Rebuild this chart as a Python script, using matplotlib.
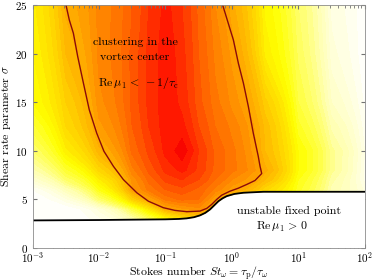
import numpy as np
import matplotlib
matplotlib.use("Agg")
import matplotlib.pyplot as plt
from matplotlib.colors import LinearSegmentedColormap

plt.rcParams['font.family'] = 'serif'
plt.rcParams['font.serif'] = ['cmr10', 'DejaVu Serif']
plt.rcParams['mathtext.fontset'] = 'cm'
plt.rcParams['axes.formatter.use_mathtext'] = True

# grid of the coloured field (0 = white .. 1 = red)
log_st = np.array([-3, -2.5, -2, -1.5, -1.25, -1, -0.75, -0.5, -0.25, 0, 0.5, 1, 1.5, 2])
sigma_rows = np.array([3, 4, 5, 6, 7, 8, 10, 12.5, 15, 20, 25])
field = np.array([
    [0.00, 0.00, 0.05, 0.20, 0.32, 0.45, 0.55, 0.60, 0.55, 0.50, 0.45, 0.30, 0.10, 0.00],  # 3
    [0.00, 0.00, 0.10, 0.35, 0.52, 0.70, 0.74, 0.77, 0.66, 0.55, 0.50, 0.32, 0.12, 0.00],  # 4
    [0.00, 0.08, 0.30, 0.60, 0.72, 0.82, 0.85, 0.84, 0.72, 0.60, 0.52, 0.35, 0.15, 0.02],  # 5
    [0.03, 0.18, 0.42, 0.74, 0.82, 0.87, 0.89, 0.86, 0.80, 0.73, 0.58, 0.40, 0.20, 0.08],  # 6
    [0.12, 0.30, 0.50, 0.76, 0.85, 0.91, 0.93, 0.90, 0.84, 0.78, 0.66, 0.42, 0.22, 0.05],  # 7
    [0.20, 0.38, 0.58, 0.80, 0.88, 0.94, 0.97, 0.92, 0.86, 0.82, 0.70, 0.45, 0.25, 0.05],  # 8
    [0.30, 0.50, 0.68, 0.85, 0.91, 0.97, 1.01, 0.93, 0.86, 0.82, 0.66, 0.45, 0.25, 0.06],  # 10
    [0.38, 0.57, 0.74, 0.87, 0.93, 0.98, 0.97, 0.90, 0.84, 0.80, 0.65, 0.40, 0.20, 0.04],  # 12.5
    [0.45, 0.60, 0.77, 0.88, 0.94, 0.98, 0.95, 0.88, 0.82, 0.77, 0.61, 0.36, 0.15, 0.02],  # 15
    [0.48, 0.66, 0.79, 0.88, 0.94, 0.98, 0.94, 0.87, 0.80, 0.74, 0.50, 0.32, 0.10, 0.00],  # 20
    [0.50, 0.70, 0.79, 0.87, 0.93, 0.97, 0.93, 0.86, 0.78, 0.70, 0.47, 0.30, 0.08, 0.00],  # 25
])

# stability boundary (black)
st_bound = [1e-3, 0.01, 0.1, 0.16, 0.209, 0.27, 0.333, 0.40, 0.471, 0.55, 0.631, 0.73,
            0.841, 1.1, 1.5, 3.0, 10, 100]
sigma_bound = [2.82, 2.86, 2.93, 2.97, 3.03, 3.15, 3.34, 3.6, 3.95, 4.4, 4.8, 5.1,
               5.32, 5.55, 5.67, 5.77, 5.77, 5.77]

# clustering region Re mu1 = -1/tau_c (dark red)
st_clust = [0.00319, 0.00358, 0.00412, 0.00479, 0.00582, 0.00716, 0.00927, 0.0119,
            0.0165, 0.0233, 0.0372, 0.0555, 0.0933, 0.14, 0.21,
            0.333, 0.421, 0.50, 0.594, 0.706, 0.942, 1.26, 1.68, 2.24, 2.83,
            2.67, 2.51, 2.11, 1.78, 1.50, 1.26, 1.06, 0.889, 0.731]
sigma_clust = [25, 23.46, 22.1, 19.7, 17.0, 14.2, 11.8, 9.94,
               8.4, 7.03, 5.67, 4.8, 4.13, 3.85, 3.72,
               3.78, 4.06, 4.47, 4.98, 5.42, 5.83, 6.14, 6.52, 6.93, 7.65,
               8.4, 9.43, 11.83, 14.56, 16.96, 19.0, 21.4, 23.1, 25]

cmap = LinearSegmentedColormap.from_list('wyr', [
    (0.0, (1, 1, 1)),
    (0.2 / 1.05, (1, 1, 0.7)),
    (0.45 / 1.05, (1, 1, 0)),
    (0.6 / 1.05, (1, 0.82, 0)),
    (0.72 / 1.05, (1, 0.65, 0)),
    (0.85 / 1.05, (1, 0.42, 0)),
    (0.93 / 1.05, (1, 0.22, 0)),
    (1.0 / 1.05, (1, 0.03, 0)),
    (1.0, (0.85, 0, 0)),
])

fig = plt.figure(figsize=(3.74, 2.8), dpi=100)
ax = fig.add_axes([0.087, 0.115, 0.8876, 0.867])

ax.contourf(10.0 ** log_st, sigma_rows, field, levels=np.linspace(0, 1.05, 36),
            cmap=cmap, vmin=0, vmax=1.05)
ax.fill_between(st_bound, 0, sigma_bound, color='white', zorder=2, lw=0)
ax.plot(st_bound, sigma_bound, color='black', lw=1.3, zorder=3)
ax.plot(st_clust, sigma_clust, color='#8b0a0a', lw=1.0, zorder=3)

fs = 8.6
ax.text(0.035, 21.2, 'clustering in the', ha='center', va='center', fontsize=fs)
ax.text(0.035, 19.6, 'vortex center', ha='center', va='center', fontsize=fs)
ax.text(0.04, 17.0, r'$\mathrm{Re}\,\mu_1 \,<\, -1/\tau_\mathrm{c}$', ha='center', va='center', fontsize=fs)
ax.text(7.4, 3.75, 'unstable fixed point', ha='center', va='center', fontsize=fs)
ax.text(5.7, 2.1, r'$\mathrm{Re}\,\mu_1 \,>\, 0$', ha='center', va='center', fontsize=fs)

ax.set_xscale('log')
ax.set_xlim(1e-3, 1e2)
ax.set_ylim(0, 25)
ax.set_yticks([0, 5, 10, 15, 20, 25])
ax.set_xlabel(r'Stokes number $St_\omega = \tau_\mathrm{p}/\tau_\omega$', fontsize=8.5, labelpad=-0.5)
ax.set_ylabel(r'Shear rate parameter $\sigma$', fontsize=8.5, labelpad=1.5)
ax.tick_params(which='both', direction='in', top=True, right=True, labelsize=8,
               color='0.45', pad=1.5)
ax.tick_params(axis='y', pad=3.5)
ax.tick_params(which='major', length=3)
ax.tick_params(which='minor', length=1.8)
for s in ax.spines.values():
    s.set_color('0.55')
    s.set_linewidth(0.6)
    s.set_zorder(4)

fig.savefig('out.png', dpi=100)
